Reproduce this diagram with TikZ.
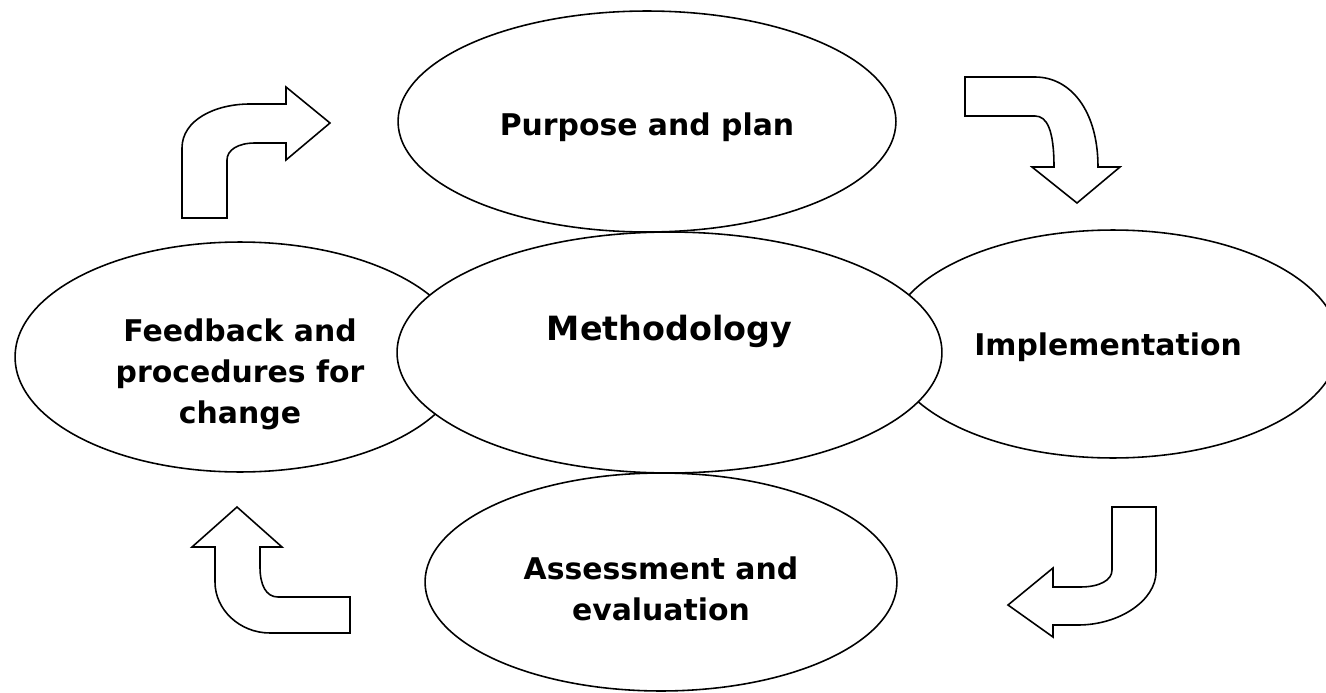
\documentclass[tikz,border=0pt]{standalone}
\usepackage{fontspec}
\setmainfont{DejaVu Sans}
\usetikzlibrary{shapes.geometric}

\tikzset{
  blob/.style={ellipse, draw, fill=white, line width=0.9pt, inner sep=0pt},
  lbl/.style={align=center, font=\bfseries\fontsize{17}{23.5}\selectfont},
  turn/.style={draw, fill=white, line width=0.9pt, line join=miter}
}

\begin{document}
\begin{tikzpicture}[x=0.02cm, y=-0.02cm]
                                \clip (0,0) rectangle (1326,693);
                                \node[blob, minimum width=9cm, minimum height=4.6cm,
                                  label={[lbl, yshift=-10pt]center:{Feedback and\\procedures for\\change}}] (feedback) at (240,357) {};
                                \node[blob, minimum width=9.04cm, minimum height=4.56cm,
                                  label={[lbl, xshift=-2.8pt, yshift=-1.7pt]center:{Implementation}}] (impl) at (1113,344) {};
                                \node[blob, minimum width=9.96cm, minimum height=4.42cm,
                                  label={[lbl, yshift=-3.4pt]center:{Purpose and plan}}] (plan) at (647,121.5) {};
                                \node[blob, minimum width=9.44cm, minimum height=4.36cm,
                                  label={[lbl, yshift=-4pt]center:{Assessment and\\evaluation}}] (assess) at (661,582) {};
                                \node[blob, minimum width=10.9cm, minimum height=4.82cm,
                                  label={[lbl, font=\bfseries\fontsize{19}{23}\selectfont, yshift=12pt]center:{Methodology}}] (method) at (669.5,352.5) {};

                                \draw[turn]
                                (182,218) -- (182,148) .. controls (182,120) and (215,104) .. (250,104)
                                -- (286,104) -- (286,87) -- (330,123) -- (286,160) -- (286,143) -- (255,143)
                                .. controls (238,143) and (227,150) .. (227,160) -- (227,218) -- cycle;

                                \draw[turn]
                                (965,77) -- (1035,77) .. controls (1070,77) and (1098,110) .. (1098,167)
                                -- (1120,167) -- (1077,203) -- (1032,167) -- (1054,167)
                                .. controls (1054,130) and (1047,116) .. (1035,116) -- (965,116) -- cycle;

                                \draw[turn]
                                (1112,507) -- (1156,507) -- (1156,572) .. controls (1156,600) and (1120,625) .. (1078,625)
                                -- (1053,625) -- (1053,637) -- (1008,605) -- (1053,568) -- (1053,587) -- (1080,587)
                                .. controls (1100,587) and (1112,580) .. (1112,570) -- cycle;

                                \draw[turn]
                                (350,597) -- (350,633) -- (270,633) .. controls (240,633) and (215,610) .. (215,582)
                                -- (215,547) -- (192,547) -- (237,507) -- (282,547) -- (260,547) -- (260,567)
                                .. controls (260,585) and (266,597) .. (278,597) -- cycle;
                            \end{tikzpicture}
\end{document}
